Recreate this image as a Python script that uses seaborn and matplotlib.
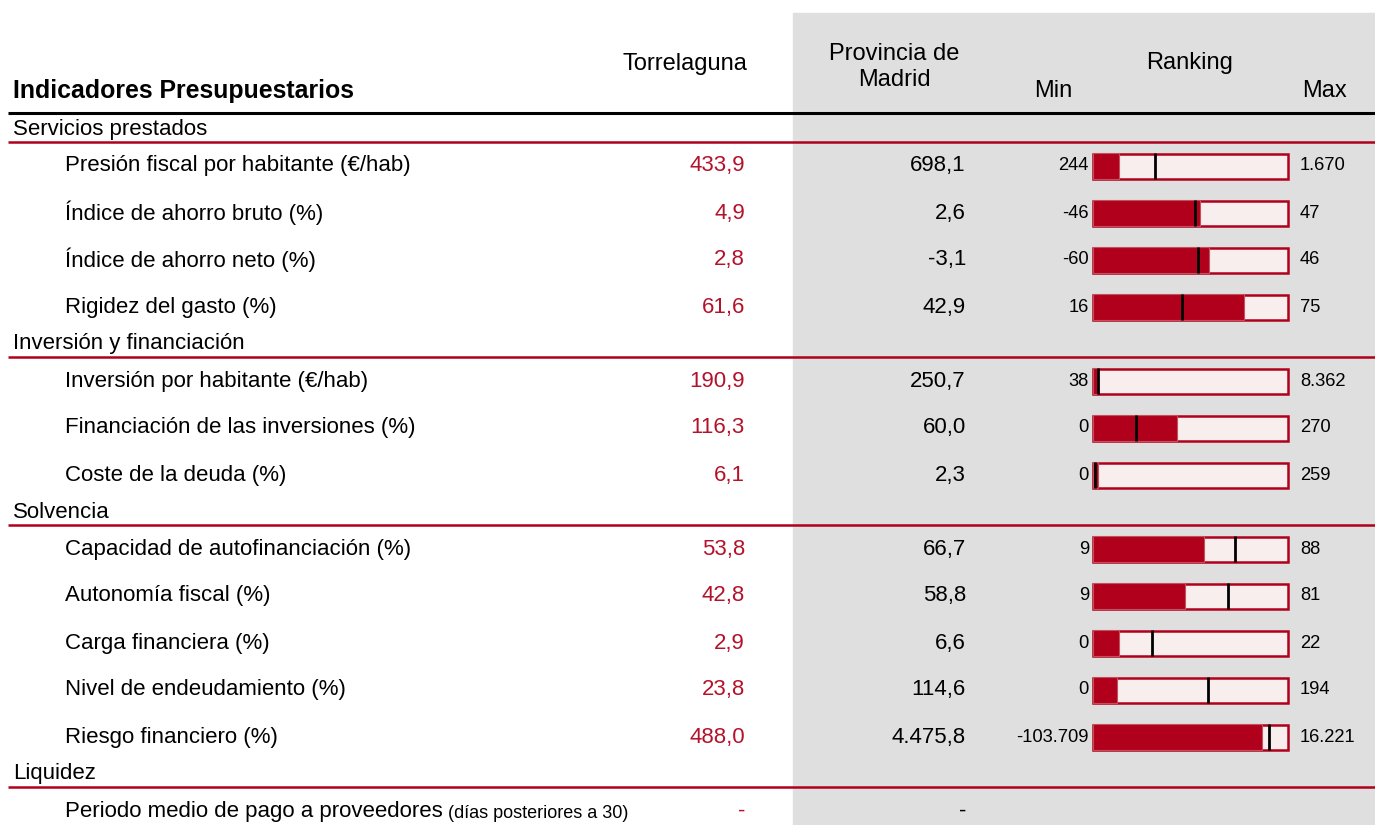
import matplotlib
matplotlib.use("Agg")
import matplotlib.pyplot as plt
from matplotlib.patches import Rectangle
import seaborn as sns

sections = ["Servicios prestados", "Inversión y financiación", "Solvencia", "Liquidez"]
section_sizes = [4, 3, 5, 1]
indicators = [
    "Presión fiscal por habitante (€/hab)",
    "Índice de ahorro bruto (%)",
    "Índice de ahorro neto (%)",
    "Rigidez del gasto (%)",
    "Inversión por habitante (€/hab)",
    "Financiación de las inversiones (%)",
    "Coste de la deuda (%)",
    "Capacidad de autofinanciación (%)",
    "Autonomía fiscal (%)",
    "Carga financiera (%)",
    "Nivel de endeudamiento (%)",
    "Riesgo financiero (%)",
    "Periodo medio de pago a proveedores",
]
indicator_notes = [""] * 12 + ["(días posteriores a 30)"]
torrelaguna = [433.9, 4.9, 2.8, 61.6, 190.9, 116.3, 6.1, 53.8, 42.8, 2.9, 23.8, 488.0, None]
madrid = [698.1, 2.6, -3.1, 42.9, 250.7, 60.0, 2.3, 66.7, 58.8, 6.6, 114.6, 4475.8, None]
rank_min = [244, -46, -60, 16, 38, 0, 0, 9, 9, 0, 0, -103709, None]
rank_max = [1670, 47, 46, 75, 8362, 270, 259, 88, 81, 22, 194, 16221, None]

RED = "#B0001C"
RED_TXT = "#B3122B"
PINK = "#F8EEEE"
GREY = "#DFDFDF"


def fmt_es(v, dec=1):
    if v is None:
        return "-"
    s = f"{v:,.{dec}f}"
    return s.replace(",", "X").replace(".", ",").replace("X", ".")


sns.set_theme(style="white")
plt.rcParams["font.family"] = ["Liberation Sans", "DejaVu Sans"]
plt.rcParams["text.color"] = "black"

W, H = 1375, 825
fig = plt.figure(figsize=(W / 100, H / 100), dpi=100)
ax = fig.add_axes([0, 0, 1, 1])
ax.set_xlim(0, W)
ax.set_ylim(H, 0)
ax.axis("off")

# ranking column gets its own axes, 0..1 = min..max
BAR_X0, BAR_W = 1093, 195
axr = fig.add_axes([BAR_X0 / W, 0, BAR_W / W, 1])
axr.set_xlim(0, 1)
axr.set_ylim(H, 0)
axr.axis("off")

ax.add_patch(Rectangle((793, 13), W - 793, H - 13, color=GREY, zorder=0))

# header
fs = 16
fh = 17
ax.text(13, 91, "Indicadores Presupuestarios", fontsize=17.9, fontweight="bold",
        ha="left", va="center")
ax.text(685, 64, "Torrelaguna", fontsize=fh, ha="center", va="center")
ax.text(894, 54, "Provincia de", fontsize=fh, ha="center", va="center")
ax.text(894, 80, "Madrid", fontsize=fh, ha="center", va="center")
ax.text(1190, 63, "Ranking", fontsize=fh, ha="center", va="center")
ax.text(1053, 91, "Min", fontsize=fh, ha="center", va="center")
ax.text(1325, 91, "Max", fontsize=fh, ha="center", va="center")
ax.hlines(112.5, 8, W, color="black", lw=2.2)

# body
y = 129
i = 0
for sec, n in zip(sections, section_sizes):
    ax.text(13, y, sec, fontsize=fs, ha="left", va="center")
    ax.hlines(y + 13, 8, W, color=RED, lw=1.8)
    y += 37
    for _ in range(n):
        t = ax.text(65, y, indicators[i], fontsize=fs, ha="left", va="center")
        if indicator_notes[i]:
            ax.annotate(" " + indicator_notes[i], xy=(1, 0), xycoords=t,
                        fontsize=13, ha="left", va="bottom")
        ax.text(745, y, fmt_es(torrelaguna[i]), fontsize=fs, color=RED_TXT,
                ha="right", va="center")
        ax.text(966, y, fmt_es(madrid[i]), fontsize=fs, ha="right", va="center")
        if rank_min[i] is not None:
            lo, hi = rank_min[i], rank_max[i]
            own = (torrelaguna[i] - lo) / (hi - lo)
            prov = (madrid[i] - lo) / (hi - lo)
            axr.barh(y, 1, left=0, height=25, color=PINK, edgecolor=RED,
                     linewidth=1.8, clip_on=False, zorder=2)
            axr.barh(y, own, left=0, height=26.5, color=RED, edgecolor="#C4505E",
                     linewidth=0.8, clip_on=False, zorder=3)
            axr.vlines(prov, y - 13, y + 13, color="black", lw=2, zorder=4)
            ax.text(1089, y, fmt_es(lo, 0), fontsize=13.2, ha="right", va="center")
            ax.text(1300, y, fmt_es(hi, 0), fontsize=13.2, ha="left", va="center")
        i += 1
        y += 47
    y -= 10

fig.savefig("out.png", dpi=100)
